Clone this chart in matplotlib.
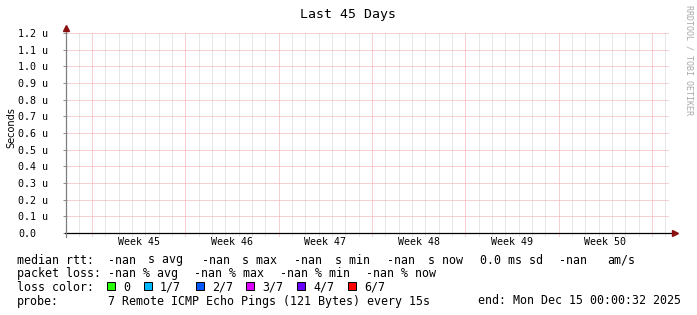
import matplotlib
matplotlib.use("Agg")
import matplotlib.pyplot as plt
from matplotlib.patches import Rectangle

# ---------------- data ----------------
title = "Last 45 Days"
ylabel = "Seconds"
n_days = 45
day_offset = 0.875          # first midnight after window start (days)
week_offset = 1.875         # first Monday after window start (days)
week_labels = ["Week 45", "Week 46", "Week 47", "Week 48", "Week 49", "Week 50"]
y_ticks = [0.0, 0.1e-6, 0.2e-6, 0.3e-6, 0.4e-6, 0.5e-6, 0.6e-6,
           0.7e-6, 0.8e-6, 0.9e-6, 1.0e-6, 1.1e-6, 1.2e-6]
y_tick_labels = ["0.0", "0.1 u", "0.2 u", "0.3 u", "0.4 u", "0.5 u", "0.6 u",
                 "0.7 u", "0.8 u", "0.9 u", "1.0 u", "1.1 u", "1.2 u"]
rtt_days = []      # no data in this period (all -nan)
rtt_values = []
loss_labels = ["0", "1/7", "2/7", "3/7", "4/7", "6/7"]
loss_colors = ["#26ff00", "#00b8ff", "#0059ff", "#dd00ff", "#6a00ff", "#ff0000"]
median_items = ["median rtt:", "-nan", "s avg", "-nan", "s max", "-nan", "s min",
                "-nan", "s now", "0.0 ms sd", "-nan", "am/s"]
loss_items = ["packet loss:", "-nan % avg", "-nan % max", "-nan % min", "-nan % now"]
probe_items = ["probe:", "7 Remote ICMP Echo Pings (121 Bytes) every 15s"]
end_text = "end: Mon Dec 15 00:00:32 2025"
watermark = "RRDTOOL / TOBI OETIKER"

# ---------------- layout ----------------
W, H = 697, 315
MONO = "DejaVu Sans Mono"
fig = plt.figure(figsize=(W / 100, H / 100), dpi=100)
fig.patch.set_facecolor("white")

def fx(px):
    return px / W

def fy(py):
    return 1 - py / H

L, R, T, B = 67, 667, 33, 233
ax = fig.add_axes([fx(L), fy(B), (R - L) / W, (B - T) / H])
ax.set_facecolor("white")
ax.set_xlim(0, n_days)
ax.set_ylim(y_ticks[0], y_ticks[-1])
for s in ax.spines.values():
    s.set_visible(False)

GRAY = "#cfcfcf"
RED = "#f0a4a4"
dot = (0, (1, 1))
# vertical grid: days (gray) and weeks (red)
day_lines = [day_offset + k for k in range(n_days)]
week_lines = [week_offset + 7 * k for k in range(7)]
for d in day_lines:
    if all(abs(d - w) > 1e-6 for w in week_lines):
        ax.axvline(d, ymin=-0.015, ymax=1.005, color=GRAY, linewidth=0.72,
                   linestyle=dot, clip_on=False, zorder=1, snap=True)
for w in week_lines:
    ax.axvline(w, ymin=-0.015, ymax=1.005, color=RED, linewidth=0.72,
               linestyle=dot, clip_on=False, zorder=2, snap=True)
# horizontal grid
for yv in y_ticks[1:]:
    ax.axhline(yv, xmin=0, xmax=1.002, color=RED, linewidth=0.72,
               linestyle=dot, clip_on=False, zorder=2, snap=True)

# empty data series
ax.plot(rtt_days, rtt_values, color="#00aa00")

# y ticks
ax.set_yticks(y_ticks)
ax.set_yticklabels(y_tick_labels, fontfamily=MONO, fontsize=7.2, ha="left")
ax.tick_params(axis="y", length=3, width=0.72, color="#909090", pad=34.5 - 2.2)

# x tick labels at mid-week
centers = [w + 3.5 for w in week_lines[:len(week_labels)]]
ax.set_xticks(centers)
ax.set_xticklabels(week_labels, fontfamily=MONO, fontsize=7.2)
ax.tick_params(axis="x", length=0, pad=3.0)

# axes lines with arrows
ax.plot([-2 / 600, 1.011], [0, 0], transform=ax.transAxes, color="black",
        linewidth=0.9, clip_on=False, zorder=5)
ax.plot([1.0125], [0], transform=ax.transAxes, marker=">", color="#8b1010",
        markersize=4.5, clip_on=False, zorder=6)
ax.plot([-0.6 / 600, -0.6 / 600], [-4 / 200, 1.02], transform=ax.transAxes,
        color="#808080", linewidth=0.9, clip_on=False, zorder=5)
ax.plot([-0.6 / 600], [1.025], transform=ax.transAxes, marker="^", color="#8b1010",
        markersize=4.5, clip_on=False, zorder=6)

# title, y label, watermark
fig.text(fx(348), fy(18.3), title, ha="center", va="baseline",
         fontfamily=MONO, fontsize=9.5)
fig.text(fx(11), fy(128), ylabel, rotation=90, ha="center", va="center",
         fontfamily="DejaVu Sans", fontsize=7)
fig.text(fx(688.5), fy(5), watermark, rotation=-90, ha="center", va="top",
         fontfamily=MONO, fontsize=6, color="#a8a8a8")

# legend rows
LF = 8.4
median_x = [17, 108, 148, 202, 242, 294, 335, 387, 428, 480, 559, 607]
for x, t in zip(median_x, median_items):
    fig.text(fx(x), fy(263.5), t, fontfamily=MONO, fontsize=LF, va="baseline")
loss_x = [17, 108, 194, 280, 366]
for x, t in zip(loss_x, loss_items):
    fig.text(fx(x), fy(277.2), t, fontfamily=MONO, fontsize=LF, va="baseline")
fig.text(fx(17), fy(290.9), "loss color:", fontfamily=MONO, fontsize=LF, va="baseline")
sq_x = [107, 144, 196, 246, 297, 348]
for x, c, t in zip(sq_x, loss_colors, loss_labels):
    fig.patches.append(Rectangle((fx(x), fy(290)), 8 / W, 8 / H, transform=fig.transFigure,
                                 facecolor=c, edgecolor="black", linewidth=0.72))
    fig.text(fx(x + 16), fy(290.9), t, fontfamily=MONO, fontsize=LF, va="baseline")
probe_x = [17, 108]
for x, t in zip(probe_x, probe_items):
    fig.text(fx(x), fy(304.5), t, fontfamily=MONO, fontsize=LF, va="baseline")
fig.text(fx(681), fy(304.5), end_text, fontfamily=MONO, fontsize=LF, va="baseline", ha="right")

fig.savefig("out.png", dpi=100, facecolor="white")
